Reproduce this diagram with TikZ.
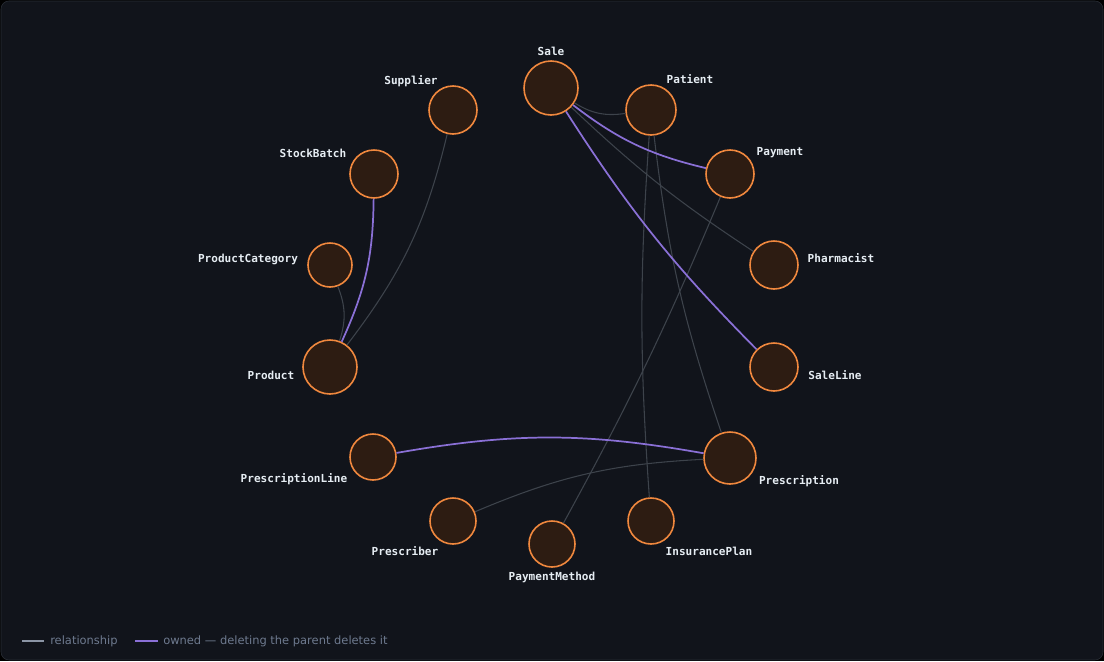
\documentclass[tikz,border=0pt]{standalone}
\usepackage{fontspec}
\setmainfont{DejaVu Sans}
\newfontfamily\monob{DejaVu Sans Mono}
\begin{document}
\begin{tikzpicture}[x=0.75pt,y=-0.75pt,
  ent/.style={circle,draw=nodeor,fill=nodefill,line width=1.2pt,inner sep=0pt},
  lab/.style={text=labc,font=\monob\bfseries\fontsize{8.3}{9}\selectfont},
  rel/.style={draw=relc,line width=0.8pt},
  own/.style={draw=ownc,line width=1.3pt},
  leg/.style={anchor=west,text=legc,font=\fontsize{8.6}{10}\selectfont,inner sep=0}]
\definecolor{bg}{HTML}{11141B}
\definecolor{frame}{HTML}{2A2F37}
\definecolor{nodeor}{HTML}{F0883E}
\definecolor{nodefill}{HTML}{2D1C12}
\definecolor{labc}{HTML}{E6EDF3}
\definecolor{relc}{HTML}{3D434B}
\definecolor{ownc}{HTML}{8A70D6}
\definecolor{legc}{HTML}{6E7A8F}
\useasboundingbox (0,0) rectangle (1104,661);
\fill[black] (0,0) rectangle (1104,661);
\draw[frame,fill=bg,rounded corners=6pt] (1,1) rectangle (1103,660);
% nodes
\node[ent,minimum size=40.5pt] (sale) at (551,88) {};
\node[ent,minimum size=37.5pt] (patient) at (651,110) {};
\node[ent,minimum size=36pt] (payment) at (730,174) {};
\node[ent,minimum size=36pt] (pharm) at (774,265) {};
\node[ent,minimum size=36pt] (saleline) at (774,367) {};
\node[ent,minimum size=39pt] (presc) at (730,458) {};
\node[ent,minimum size=34.5pt] (ins) at (651,521) {};
\node[ent,minimum size=34.5pt] (pm) at (552,544) {};
\node[ent,minimum size=34.5pt] (prescriber) at (453,521) {};
\node[ent,minimum size=34.5pt] (pline) at (373,457) {};
\node[ent,minimum size=40.5pt] (product) at (330,367) {};
\node[ent,minimum size=33pt] (pcat) at (330,265) {};
\node[ent,minimum size=36pt] (stock) at (374,174) {};
\node[ent,minimum size=36pt] (supp) at (453,110) {};
% edges
\draw[rel] (sale) to[bend right=20] (patient);
\draw[rel] (sale) to[bend right=5] (pharm);
\draw[rel] (patient) to[bend right=6] (presc);
\draw[rel] (patient) to[bend right=4] (ins);
\draw[rel] (payment) to[bend left=3] (pm);
\draw[rel] (presc) to[bend right=10] (prescriber);
\draw[rel] (product) to[bend right=12] (supp);
\draw[rel] (product) to[bend right=20] (pcat);
\draw[own] (sale) to[bend right=12] (payment);
\draw[own] (sale) to[bend right=6] (saleline);
\draw[own] (presc) to[bend right=10] (pline);
\draw[own] (product) to[bend right=12] (stock);
% labels
\node[lab] (l1) at (551,51) {Sale};
\node[lab] (l2) at (690,79) {Patient};
\node[lab] (l3) at (780,153) {Payment};
\node[lab] (l4) at (841,258) {Pharmacist};
\node[lab] (l5) at (835,375) {SaleLine};
\node[lab] (l6) at (799,481) {Prescription};
\node[lab] (l7) at (709,551) {InsurancePlan};
\node[lab] (l8) at (552,577) {PaymentMethod};
\node[lab] (l9) at (405,551) {Prescriber};
\node[lab] (l10) at (294,479) {PrescriptionLine};
\node[lab] (l11) at (271,375) {Product};
\node[lab] (l12) at (248,259) {ProductCategory};
\node[lab] (l13) at (313,153) {StockBatch};
\node[lab] (l14) at (411,81) {Supplier};
% legend
\coordinate (a1) at (22,641); \coordinate (a2) at (44,641);
\draw[draw=legc!80,line width=1pt] (a1) -- (a2);
\node[leg] (t1) at (50,641) {relationship};
\coordinate (b1) at (135,641); \coordinate (b2) at (158,641);
\draw[draw=ownc,line width=1pt] (b1) -- (b2);
\node[leg] (t2) at (163,641) {owned — deleting the parent deletes it};
\end{tikzpicture}
\end{document}
